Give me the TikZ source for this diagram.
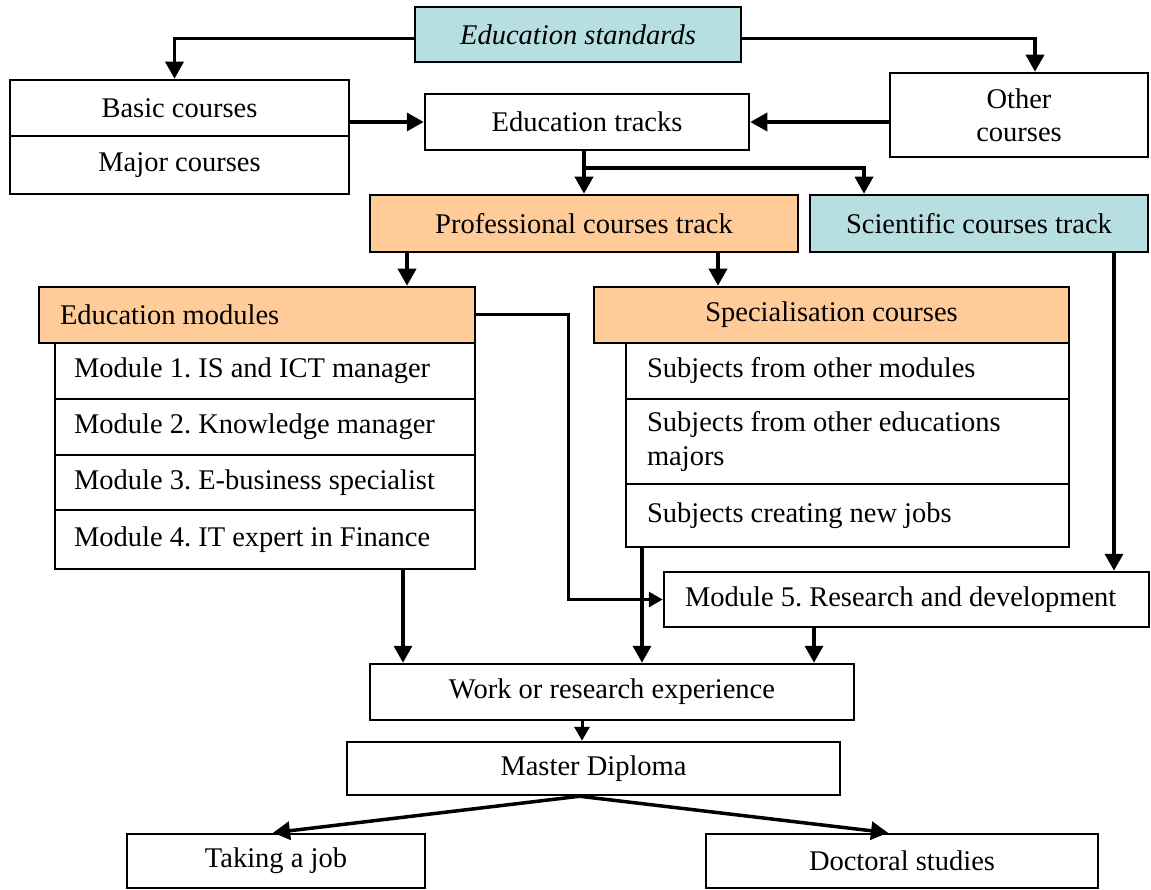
\documentclass[tikz,border=0pt]{standalone}
\usepackage{fontspec}
\setmainfont{Liberation Serif}
\usetikzlibrary{arrows.meta}
\definecolor{sciblue}{RGB}{183,223,226}
\definecolor{profor}{RGB}{255,204,153}
\tikzset{
  sz/.style 2 args={minimum width=#1pt,minimum height=#2pt},
  box/.style={draw,line width=2.5pt,fill=white,inner sep=0pt,align=center,
    font=\fontsize{28.5}{33}\selectfont\frenchspacing},
  lbox/.style={box,align=flush left,inner xsep=20pt},
  arr/.style={line width=3.5pt,-{Triangle[length=17pt,width=18pt]}},
  sarr/.style={line width=3pt,-{Triangle[length=14pt,width=15pt]}}
}
\begin{document}
\begin{tikzpicture}[x=1pt,y=-1pt]
\useasboundingbox (0,0) rectangle (1151,890);
\fill[white] (0,0) rectangle (1151,890);
% nodes
\node[box,sz={326}{55},fill=sciblue] (es) at (578,34.5) {\itshape Education standards};
\node[box,sz={339}{56}] (basic) at (179.5,108) {Basic courses};
\node[box,sz={339}{58}] (major) at (179.5,165) {Major courses};
\node[box,sz={324}{56}] (tracks) at (587,122) {Education tracks};
\node[box,sz={258}{84}] (other) at (1019,115) {Other\\courses};
\node[box,sz={428}{57},fill=profor] (prof) at (584,223.5) {Professional courses track};
\node[box,sz={338}{57},fill=sciblue] (sci) at (979,223.5) {Scientific courses track};
\node[lbox,inner xsep=21pt,text width=394pt,minimum height=56pt,fill=profor] (edumod) at (257,315) {Education modules};
\node[lbox,inner xsep=19pt,text width=382pt,minimum height=56pt] (m1) at (265,371) {Module 1. IS and ICT manager};
\node[lbox,inner xsep=19pt,text width=382pt,minimum height=56pt] (m2) at (265,427) {Module 2. Knowledge manager};
\node[lbox,inner xsep=19pt,text width=382pt,minimum height=55pt] (m3) at (265,482.5) {Module 3. E-business specialist};
\node[lbox,inner xsep=19pt,text width=382pt,minimum height=59pt] (m4) at (265,539.5) {Module 4. IT expert in Finance};
\node[box,sz={475}{56},fill=profor] (spec) at (831.5,315) {Specialisation courses};
\node[lbox,inner xsep=21pt,text width=401pt,minimum height=56pt] (s1) at (847.5,371) {Subjects from other modules};
\node[lbox,inner xsep=21pt,text width=401pt,minimum height=85pt] (s2) at (847.5,441.5) {Subjects from other educations\\majors};
\node[lbox,inner xsep=21pt,text width=401pt,minimum height=63pt] (s3) at (847.5,515.5) {Subjects creating new jobs};
\node[lbox,inner xsep=21pt,text width=443pt,minimum height=55pt] (mod5) at (906.5,599.5) {Module 5. Research and development};
\node[box,sz={484}{56}] (work) at (612,692) {Work or research experience};
\node[box,sz={493}{53}] (master) at (593.5,768.5) {Master Diploma};
\node[box,sz={298}{54}] (job) at (276,861) {Taking a job};
\node[box,sz={392}{54}] (doc) at (902,861) {Doctoral studies};
% column coordinates
\coordinate (xa) at (407,0);
\coordinate (xb) at (718,0);
\coordinate (xc) at (403,0);
\coordinate (xd) at (642,0);
\coordinate (xe) at (1114,0);
\coordinate (xf) at (814,0);
\coordinate (xg) at (582,0);
\coordinate (xh) at (568,0);
\coordinate (brk) at (584,168);
\coordinate (sciin) at ([xshift=-115pt]sci.north);
\coordinate (ms) at ([xshift=-14pt]master.south);
% connectors
\draw[arr] ([yshift=-4pt]es.west) -| ([xshift=-5pt]basic.north);
\draw[arr] ([yshift=-4pt]es.east) -| ([xshift=16pt]other.north);
\draw[arr] (basic.east |- tracks.west) -- (tracks.west);
\draw[arr] (other.west |- tracks.east) -- (tracks.east);
\draw[arr] (prof.north |- tracks.south) -- (prof.north);
\draw[arr] (brk) -| (sciin);
\draw[arr] (prof.south -| xa) -- (edumod.north -| xa);
\draw[arr] (prof.south -| xb) -- (spec.north -| xb);
\draw[sarr] (edumod.east) -| (xh |- mod5.west) -- (mod5.west);
\draw[arr] (m4.south -| xc) -- (work.north -| xc);
\draw[arr] (s3.south -| xd) -- (work.north -| xd);
\draw[arr] (sci.south -| xe) -- (mod5.north -| xe);
\draw[arr] (mod5.south -| xf) -- (work.north -| xf);
\draw[sarr] (work.south -| xg) -- (master.north -| xg);
\draw[arr] (ms) -- ([xshift=-3pt]job.north);
\draw[arr] (ms) -- ([xshift=-14pt]doc.north);
\end{tikzpicture}
\end{document}
